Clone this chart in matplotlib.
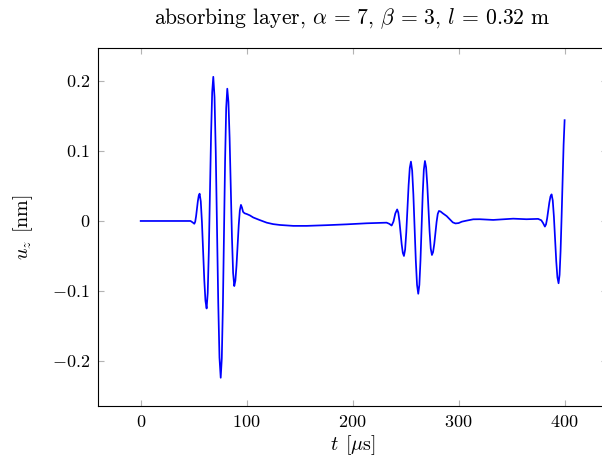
import matplotlib
matplotlib.use("Agg")
import matplotlib.pyplot as plt
from matplotlib.ticker import FixedLocator, FixedFormatter

matplotlib.rcParams.update({
    'font.family': 'cmr10',
    'mathtext.fontset': 'cm',
    'axes.formatter.use_mathtext': True,
    'font.size': 13,
})

# time [us] and vertical displacement [nm]
t_us = [0, 20, 40, 47, 49, 50.6,
        51.43, 52.27, 53.1, 53.93, 54.77, 55.6,
        56.7, 57.8, 58.9, 60.0, 61.1, 62.2,
        63.25, 64.3, 65.35, 66.4, 67.45, 68.5,
        69.67, 70.83, 72.0, 73.17, 74.33, 75.5,
        76.53, 77.57, 78.6, 79.63, 80.67, 81.7,
        82.8, 83.9, 85.0, 86.1, 87.2, 88.3,
        89.35, 90.4, 91.45, 92.5, 93.55, 94.6,
        95.6, 96.6, 98, 100, 103, 106.2, 112, 118.9, 125, 131.4, 144, 156.6,
        175.5, 194.3, 213.2, 232, 234.5, 236.8, 238.53, 240.27, 242,
        243.07, 244.13, 245.2, 246.27, 247.33, 248.4,
        249.5, 250.6, 251.7, 252.8, 253.9, 255,
        256.15, 257.3, 258.45, 259.6, 260.75, 261.9,
        262.95, 264.0, 265.05, 266.1, 267.15, 268.2,
        269.3, 270.4, 271.5, 272.6, 273.7, 274.8,
        275.9, 277.0, 278.1, 279.2, 280.3, 281.4,
        283, 285, 288.7, 292, 294.5, 297, 300, 303, 307.5, 313.8, 320,
        332.6, 351.5, 364, 375, 378, 379.7, 381.4,
        382.45, 383.5, 384.55, 385.6, 386.65, 387.7,
        388.8, 389.9, 391.0, 392.1, 393.2, 394.3,
        395.25, 396.2, 397.15, 398.1, 399.05, 400]
u_nm = [0, 0, 0, 0.0, -0.002, -0.004,
        -0.0011, 0.0068, 0.0175, 0.0283, 0.0361, 0.039,
        0.028, -0.002, -0.043, -0.084, -0.114, -0.125,
        -0.1028, -0.0422, 0.0405, 0.123, 0.184, 0.206,
        0.177, 0.0985, -0.009, -0.1165, -0.195, -0.224,
        -0.1963, -0.1207, -0.0175, 0.0858, 0.1613, 0.189,
        0.1701, 0.1185, 0.048, -0.0225, -0.0741, -0.093,
        -0.0852, -0.064, -0.035, -0.006, 0.0152, 0.023,
        0.019, 0.013, 0.011, 0.010, 0.008, 0.005, 0.0015, -0.0024, -0.0045, -0.0057, -0.007, -0.007,
        -0.006, -0.0048, -0.0033, -0.0024, -0.004, -0.0065, -0.0008, 0.0108, 0.0165,
        0.012, -0.0001, -0.0168, -0.0334, -0.0455, -0.05,
        -0.041, -0.0163, 0.0174, 0.0511, 0.0758, 0.0848,
        0.0722, 0.0376, -0.0096, -0.0568, -0.0913, -0.104,
        -0.0913, -0.0566, -0.0092, 0.0383, 0.073, 0.0857,
        0.0767, 0.0521, 0.0186, -0.015, -0.0396, -0.0486,
        -0.0444, -0.0329, -0.0172, -0.0014, 0.0101, 0.0143,
        0.0135, 0.011, 0.007, 0.002, -0.002, -0.0035, -0.003, -0.001, 0.0005, 0.0024, 0.0025,
        0.0015, 0.0033, 0.0025, 0.003, 0.001, -0.003, -0.008,
        -0.0049, 0.0035, 0.015, 0.0265, 0.0349, 0.038,
        0.0295, 0.0062, -0.0255, -0.0573, -0.0805, -0.089,
        -0.077, -0.043, 0.0055, 0.0598, 0.109, 0.144]

x_ticks = [0, 100, 200, 300, 400]
y_ticks = [-0.2, -0.1, 0, 0.1, 0.2]
y_labels = ['$-0.2$', '$-0.1$', '$0$', '$0.1$', '$0.2$']

fig = plt.figure(figsize=(6.02, 4.68), dpi=100)
# right edge of the frame falls just outside the picture, as in the reference
ax = fig.add_axes([98.3 / 602, 62 / 468, (607 - 98.3) / 602, 358 / 468])

ax.plot(t_us, u_nm, color=(0, 0, 1), lw=1.25)

ax.set_xlim(-40, 440)
ax.set_ylim(-0.2643, 0.2471)

ax.xaxis.set_major_locator(FixedLocator(x_ticks))
ax.xaxis.set_major_formatter(FixedFormatter(['$%d$' % v for v in x_ticks]))
ax.yaxis.set_major_locator(FixedLocator(y_ticks))
ax.yaxis.set_major_formatter(FixedFormatter(y_labels))

ax.tick_params(which='both', direction='in', length=4.5, width=0.8,
               color='0.7', top=True, right=True, pad=6)
for s in ax.spines.values():
    s.set_linewidth(0.8)

ax.set_xlabel(r'$t\;\,[\mu\mathrm{s}]$', fontsize=14.5, labelpad=2)
ax.set_ylabel(r'$u_z\;\,[\mathrm{nm}]$', fontsize=14.5, labelpad=12)
ax.set_title(r'absorbing layer, $\alpha\,=\,7$, $\beta\,=\,3$, $l\,=\,0.32$ m', pad=17)

fig.savefig('out.png', dpi=100)
